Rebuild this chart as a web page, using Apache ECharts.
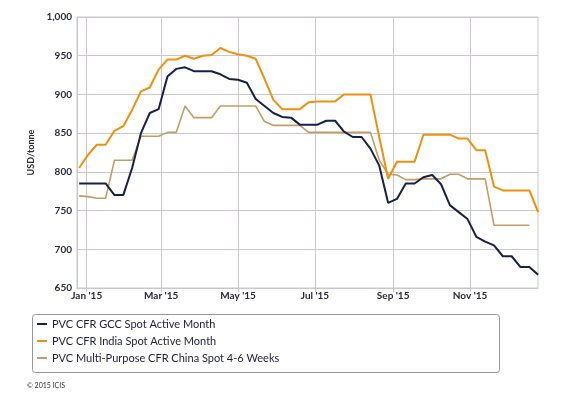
<!DOCTYPE html>
<html>
<head>
<meta charset="utf-8">
<script src="https://cdn.jsdelivr.net/npm/echarts@6/dist/echarts.min.js"></script>
<style>
html,body{margin:0;padding:0;background:#fff;}
#chart{width:576px;height:403px;}
</style>
</head>
<body>
<div id="chart"></div>
<script>
// Weekly assessment dates (Fridays)
const weeks = [
  "2014-12-26","2015-01-02","2015-01-09","2015-01-16","2015-01-23","2015-01-30",
  "2015-02-06","2015-02-13","2015-02-20","2015-02-27",
  "2015-03-06","2015-03-13","2015-03-20","2015-03-27",
  "2015-04-03","2015-04-10","2015-04-17","2015-04-24",
  "2015-05-01","2015-05-08","2015-05-15","2015-05-22","2015-05-29",
  "2015-06-05","2015-06-12","2015-06-19","2015-06-26",
  "2015-07-03","2015-07-10","2015-07-17","2015-07-24","2015-07-31",
  "2015-08-07","2015-08-14","2015-08-21","2015-08-28",
  "2015-09-04","2015-09-11","2015-09-18","2015-09-25",
  "2015-10-02","2015-10-09","2015-10-16","2015-10-23","2015-10-30",
  "2015-11-06","2015-11-13","2015-11-20","2015-11-27",
  "2015-12-04","2015-12-11","2015-12-18","2015-12-25"
];

const seriesNames = [
  "PVC CFR GCC Spot Active Month",
  "PVC CFR India Spot Active Month",
  "PVC Multi-Purpose CFR China Spot 4-6 Weeks"
];

const gcc = [785,785,785,785,770,770,805,850,876,881,
             923,933,935,930,930,930,926,920,919,915,
             894,885,876,871,870,861,861,861,866,866,
             852,845,845,830,808,760,765,785,785,793,
             796,784,757,748,739,716,710,705,691,691,
             677,677,667];

const india = [805,822,835,835,853,859,880,904,909,932,
               945,945,950,946,950,951,960,955,952,950,
               946,920,893,881,881,881,890,891,891,891,
               900,900,900,900,845,791,813,813,813,848,
               848,848,848,843,843,828,828,781,776,776,
               776,776,748];

const china = [769,768,766,766,815,815,815,846,846,846,
               851,851,885,870,870,870,885,885,885,885,
               885,865,860,860,860,860,851,851,851,851,
               851,851,851,851,815,797,796,790,790,791,
               791,791,797,797,791,791,791,731,731,731,
               731,731];

const tickDates = ["2015-01-01","2015-03-01","2015-05-01","2015-07-01","2015-09-01","2015-11-01"];
const tickLabels = ["Jan '15","Mar '15","May '15","Jul '15","Sep '15","Nov '15"];

const xMin = Date.parse("2014-12-24T07:00:00Z");
const xMax = Date.parse("2015-12-24T21:00:00Z");
const tickMs = tickDates.map(d => Date.parse(d));

function pairs(vals){ return vals.map((v,i)=>[Date.parse(weeks[i]), v]); }

const colors = ["#14224a","#f0900c","#c69c62"];
const gridColor = "#cdc6cf";

const chart = echarts.init(document.getElementById('chart'), null, {renderer:'canvas'});
chart.setOption({
  animation:false,
  backgroundColor:'#ffffff',
  color: colors,
  textStyle:{fontFamily:'Lato, "Open Sans", sans-serif'},
  grid:{left:77, right:38, top:17, bottom:115, show:true, borderColor:gridColor, borderWidth:1, containLabel:false},
  xAxis:{
    type:'value', min:xMin, max:xMax,
    axisLine:{show:true, lineStyle:{color:gridColor}},
    axisTick:{show:true, length:4, lineStyle:{color:gridColor}, customValues:tickMs},
    splitLine:{show:true, lineStyle:{color:gridColor, width:1}},
    axisLabel:{customValues:tickMs, margin:3, fontSize:10, fontWeight:'bold', color:'#2a2a3a',
      formatter:(v)=>{const i=tickMs.indexOf(v); return i>=0?tickLabels[i]:'';}}
  },
  yAxis:{
    type:'value', min:650, max:1000, interval:50,
    name:'USD/tonne', nameLocation:'middle', nameGap:39,
    nameTextStyle:{fontSize:9, fontWeight:'bold', color:'#2a2a3a'},
    axisLine:{show:true, lineStyle:{color:gridColor}},
    axisTick:{show:false},
    splitLine:{show:true, lineStyle:{color:gridColor, width:1}},
    axisLabel:{margin:5, fontSize:10, fontWeight:'bold', color:'#2a2a3a',
      formatter:(v)=>v.toLocaleString('en-US')}
  },
  legend:{
    orient:'vertical', left:37, top:317, padding:0,
    icon:'rect', itemWidth:10, itemHeight:2, itemGap:3,
    textStyle:{fontSize:11, lineHeight:14, color:'#1e1e3c'},
    data: seriesNames
  },
  graphic:[
    {type:'rect', left:30, top:312, shape:{width:467, height:58, r:3},
     style:{fill:'none', stroke:'#9a96a0', lineWidth:1}, silent:true},
    {type:'text', left:27, top:382, style:{text:'\u00a9 2015 ICIS', fontSize:7, fill:'#333', fontFamily:'Lato, sans-serif'}}
  ],
  series:[
    {name:seriesNames[0], type:'line', data:pairs(gcc), showSymbol:false, symbol:'none',
     lineStyle:{width:2, color:colors[0]}, z:3},
    {name:seriesNames[1], type:'line', data:pairs(india), showSymbol:false, symbol:'none',
     lineStyle:{width:2, color:colors[1]}, z:4},
    {name:seriesNames[2], type:'line', data:pairs(china), showSymbol:false, symbol:'none',
     lineStyle:{width:1.6, color:colors[2]}, z:2}
  ]
});
</script>
</body>
</html>
